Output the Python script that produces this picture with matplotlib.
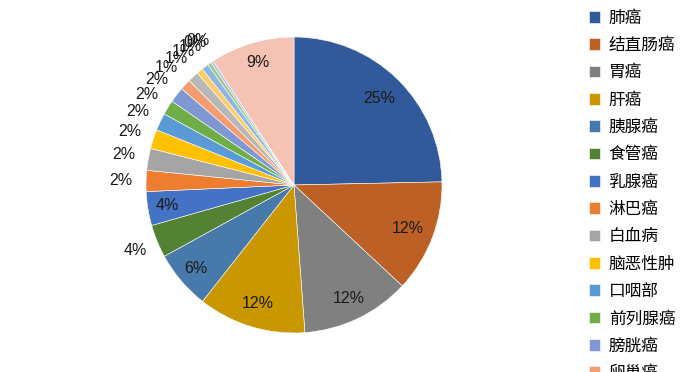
import numpy as np
import matplotlib
matplotlib.use('Agg')
import matplotlib.pyplot as plt

plt.rcParams['font.family'] = ['Noto Sans CJK SC', 'DejaVu Sans']

# data
cancers = ['肺癌', '结直肠癌', '胃癌', '肝癌', '胰腺癌', '食管癌', '乳腺癌', '淋巴癌',
           '白血病', '脑恶性肿', '口咽部', '前列腺癌', '膀胱癌', '卵巢癌',
           '肾癌', '宫颈癌', '子宫体癌', '甲状腺癌', '皮肤癌', '其他']
shares = [24.7, 12.3, 11.9, 11.8, 6.4, 3.6, 3.7, 2.3, 2.4, 2.1, 1.9, 1.6, 1.7, 1.2,
          1.2, 0.7, 0.75, 0.4, 0.3, 9.2]

colors = ['#325A9A', '#BD6025', '#808080', '#C99700', '#4779AA', '#548235', '#4472C4',
          '#ED7D31', '#A5A5A5', '#FFC000', '#5B9BD5', '#70AD47', '#7F98D4', '#F29D72',
          '#B8B8B8', '#FFCC66', '#8DB6E2', '#9CC98A', '#B4C1E6', '#F5C3B3']
# label distance from centre (radius = 1)
label_r = [0.82, 0.82, 0.85, 0.84, 0.87, 1.16, 0.87, 1.17, 1.17, 1.17, 1.17, 1.17,
           1.17, 1.17, 1.17, 1.17, 1.17, 1.17, 1.17, 0.86]

W, H = 693, 372
fig = plt.figure(figsize=(W / 100, H / 100), dpi=100)
R = 148
cx, cy = 294, 372 - 185
lim = 1.3
ax = fig.add_axes([(cx - lim * R) / W, (cy - lim * R) / H, 2 * lim * R / W, 2 * lim * R / H])

wedges, _, autotexts = ax.pie(shares, colors=colors, startangle=90, counterclock=False,
                              autopct='%.0f%%',
                              wedgeprops=dict(edgecolor='white', linewidth=0.4),
                              textprops=dict(family=['Liberation Sans', 'DejaVu Sans'],
                                             fontsize=11.5, color='#1a1a1a'))
for w, t, r in zip(wedges, autotexts, label_r):
    ang = np.deg2rad((w.theta1 + w.theta2) / 2)
    t.set_position((r * np.cos(ang), r * np.sin(ang)))
    t.set_ha('center')
    t.set_va('center')

ax.set_xlim(-lim, lim)
ax.set_ylim(-lim, lim)
ax.set_aspect('equal')
ax.axis('off')

fig.legend(wedges, cancers, loc='upper left', bbox_to_anchor=(582 / W, 1 - 3 / H),
           frameon=False, fontsize=12, handlelength=0.7, handleheight=0.7,
           handletextpad=0.5, labelspacing=0.62, borderaxespad=0)

fig.savefig('out.png', dpi=100)
